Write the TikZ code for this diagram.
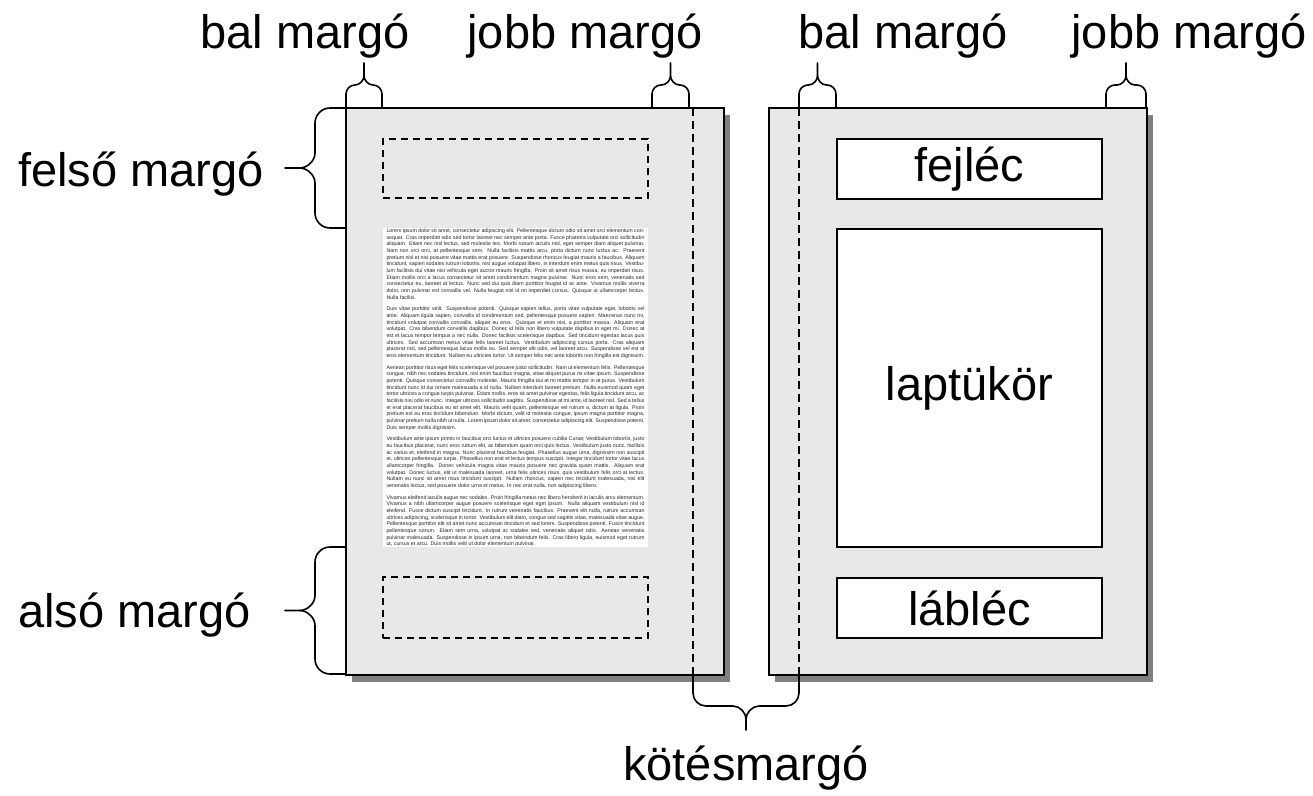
\documentclass[tikz,border=0pt]{standalone}
\usepackage{fontspec}
\setmainfont{Liberation Sans}
\usetikzlibrary{shadows}
\definecolor{pagegray}{HTML}{E8E8E8}
\definecolor{shadowgray}{HTML}{808080}
\newcommand\mybrace[6]{%
  \begin{scope}[shift={#1},rotate=#2]
    \draw[bracel] (0,0) -- (0,{-#4+#6}) .. controls (0,{-#4+0.45*#6}) and ({0.45*#6},-#4) .. (#6,-#4) -- ({#3/2-#6},-#4) .. controls ({#3/2-0.45*#6},-#4) and ({#3/2},{-#4-0.55*#6}) .. ({#3/2},{-#4-#6}) -- ({#3/2},-#5);
    \draw[bracel] (#3,0) -- (#3,{-#4+#6}) .. controls (#3,{-#4+0.45*#6}) and ({#3-0.45*#6},-#4) .. ({#3-#6},-#4) -- ({#3/2+#6},-#4) .. controls ({#3/2+0.45*#6},-#4) and ({#3/2},{-#4-0.55*#6}) .. ({#3/2},{-#4-#6});
  \end{scope}}
\begin{document}
\begin{tikzpicture}[x=1pt,y=-1pt,
  pagebox/.style={draw=black, line width=2pt, fill=pagegray, minimum width=378pt, minimum height=567pt, inner sep=0pt,
    drop shadow={shadow xshift=6pt, shadow yshift=-7pt, fill=shadowgray, opacity=1}},
  dashbox/.style={draw=black, line width=1.8pt, dash pattern=on 7pt off 5pt, minimum width=265pt, minimum height=60pt, inner sep=0pt},
  whitebox/.style={draw=black, line width=1.8pt, fill=white, minimum width=265pt, inner sep=0pt, font=\fontsize{47}{56}\selectfont},
  vdash/.style={draw=black, line width=1.8pt, dash pattern=on 8pt off 5pt},
  bracel/.style={draw=black, line width=1.6pt, line cap=round},
  lab/.style={font=\fontsize{47}{56}\selectfont, anchor=base, inner sep=0pt}
]
\useasboundingbox (0,0) rectangle (1313,795);

% pages
\node[pagebox] (pL) at (535,391.5) {};
\node[pagebox] (pR) at (957.5,391.5) {};

% left page content
\node[dashbox, minimum height=59pt] (headL) at (515.5,168.5) {};
\node[dashbox, minimum height=61pt] (footL) at (515.5,607.5) {};
\node[fill=white, minimum width=265pt, minimum height=319pt, inner sep=0pt] (tb) at (515.5,387.5) {};
\node[anchor=north, text width=258pt, align=justify, inner sep=0pt, text=black!85,
      font={\fontsize{5.3}{6.67}\selectfont\setlength{\parskip}{5pt}\emergencystretch=3em}]
  (tbtext) at ([yshift=-0.5pt]tb.north) {Lorem ipsum dolor sit amet, consectetur adipiscing elit. Pellentesque dictum odio sit amet orci elementum consequat. Cras imperdiet odio sed tortor laoreet nec semper ante porta. Fusce pharetra vulputate orci sollicitudin aliquam. Etiam nec nisl lectus, sed molestie leo. Morbi rutrum iaculis nisl, eget semper diam aliquet pulvinar. Nam non orci orci, at pellentesque sem. Nulla facilisis mattis arcu, porta dictum nunc luctus ac. Praesent pretium nisl et nisi posuere vitae mattis erat posuere. Suspendisse rhoncus feugiat mauris a faucibus. Aliquam tincidunt, sapien sodales rutrum lobortis, nisi augue volutpat libero, in interdum enim metus quis risus. Vestibulum facilisis dui vitae nisi vehicula eget auctor mauris fringilla. Proin sit amet risus massa, eu imperdiet risus. Etiam mollis orci a lacus consectetur sit amet condimentum magna pulvinar. Nunc eros sem, venenatis sed consectetur eu, laoreet at lectus. Nunc sed dui quis diam porttitor feugiat id ac ante. Vivamus mollis viverra dolor, non pulvinar est convallis vel. Nulla feugiat nisl id mi imperdiet cursus. Quisque ut ullamcorper lectus. Nulla facilisi.\par
Duis vitae porttitor velit. Suspendisse potenti. Quisque sapien tellus, porta vitae vulputate eget, lobortis vel ante. Aliquam ligula sapien, convallis id condimentum sed, pellentesque posuere sapien. Maecenas nunc mi, tincidunt volutpat convallis convallis, aliquet eu eros. Quisque et enim nisi, a porttitor massa. Aliquam erat volutpat. Cras bibendum convallis dapibus. Donec id felis non libero vulputate dapibus in eget mi. Donec at est et lacus tempor tempus a nec nulla. Donec facilisis scelerisque dapibus. Sed tincidunt egestas lacus quis ultrices. Sed accumsan metus vitae felis laoreet luctus. Vestibulum adipiscing cursus porta. Cras aliquam placerat nisl, sed pellentesque lacus mollis eu. Sed semper elit odio, vel laoreet arcu. Suspendisse vel est at eros elementum tincidunt. Nullam eu ultricies tortor. Ut semper felis nec ante lobortis non fringilla est dignissim.\par
Aenean porttitor risus eget felis scelerisque vel posuere justo sollicitudin. Nam ut elementum felis. Pellentesque congue, nibh nec sodales tincidunt, nisl enim faucibus magna, vitae aliquet purus mi vitae ipsum. Suspendisse potenti. Quisque consectetur convallis molestie. Mauris fringilla dui at mi mattis tempor in at purus. Vestibulum tincidunt nunc id dui ornare malesuada a id nulla. Nullam interdum laoreet pretium. Nulla euismod quam eget tortor ultrices a congue turpis pulvinar. Etiam mollis, eros sit amet pulvinar egestas, felis ligula tincidunt arcu, ac facilisis nisi odio et nunc. Integer ultrices sollicitudin sagittis. Suspendisse at mi ante, id laoreet nisl. Sed a tellus et erat placerat faucibus eu sit amet elit. Mauris velit quam, pellentesque vel rutrum a, dictum at ligula. Proin pretium est eu eros tincidunt bibendum. Morbi dictum, velit id molestie congue, ipsum magna porttitor magna, pulvinar pretium nulla nibh ut nulla. Lorem ipsum dolor sit amet, consectetur adipiscing elit. Suspendisse potenti. Duis semper mollis dignissim.\par
Vestibulum ante ipsum primis in faucibus orci luctus et ultrices posuere cubilia Curae; Vestibulum lobortis, justo eu faucibus placerat, nunc eros rutrum elit, ac bibendum quam orci quis lectus. Vestibulum justo nunc, facilisis ac varius et, eleifend in magna. Nunc placerat faucibus feugiat. Phasellus augue urna, dignissim non suscipit et, ultrices pellentesque turpis. Phasellus non erat et lectus tempus suscipit. Integer tincidunt tortor vitae lacus ullamcorper fringilla. Donec vehicula magna vitae mauris posuere nec gravida quam mattis. Aliquam erat volutpat. Donec luctus, elit ut malesuada laoreet, urna felis ultrices risus, quis vestibulum felis orci at lectus. Nullam eu nunc sit amet risus tincidunt suscipit. Nullam rhoncus, sapien nec tincidunt malesuada, nisi elit venenatis lectus, sed posuere dolor urna et metus. In nec erat nulla, non adipiscing libero.\par
Vivamus eleifend iaculis augue nec sodales. Proin fringilla metus nec libero hendrerit in iaculis arcu elementum. Vivamus a nibh ullamcorper augue posuere scelerisque eget eget ipsum. Nulla aliquam vestibulum nisl id eleifend. Fusce dictum suscipit tincidunt. In rutrum venenatis faucibus. Praesent elit nulla, rutrum accumsan ultrices adipiscing, scelerisque in tortor. Vestibulum elit diam, congue sed sagittis vitae, malesuada vitae augue. Pellentesque porttitor elit sit amet nunc accumsan tincidunt et sed lorem. Suspendisse potenti. Fusce tincidunt pellentesque rutrum. Etiam sem urna, volutpat ac sodales sed, venenatis aliquet odio. Aenean venenatis pulvinar malesuada. Suspendisse in ipsum urna, non bibendum felis. Cras libero ligula, euismod eget rutrum ut, cursus et arcu. Duis mollis velit ut dolor elementum pulvinar.};

% right page content
\node[whitebox, minimum height=60pt] (fej) at (969.5,169) {fejléc};
\node[whitebox, minimum height=318pt] (lap) at (969.5,388) {laptükör};
\node[whitebox, minimum height=60pt] (lab) at (969.5,608) {lábléc};

% binding lines
\coordinate (gLt) at (693,108);
\coordinate (gLb) at (693,675);
\coordinate (gRt) at (799,108);
\coordinate (gRb) at (799,675);
\draw[vdash] (gLt) -- (gLb);
\draw[vdash] (gRt) -- (gRb);

% braces
\mybrace{(346,108)}{0}{36}{23}{45}{9}
\mybrace{(652,108)}{0}{37}{23}{45}{9}
\mybrace{(799,108)}{0}{37}{23}{45}{9}
\mybrace{(1106,108)}{0}{40}{23}{45}{9}
\mybrace{(345,228)}{90}{120}{30}{60}{15}
\mybrace{(345,674)}{90}{127}{30}{60}{15}
\mybrace{(799,676)}{180}{106}{30}{54}{13}

% labels
\node[lab] (l1) at (305,48) {bal margó};
\node[lab] (l2) at (585,48) {jobb margó};
\node[lab] (l3) at (903,48) {bal margó};
\node[lab] (l4) at (1189,48) {jobb margó};
\node[lab, anchor=base west] (l5) at (18,186) {felső margó};
\node[lab, anchor=base west] (l6) at (18,627) {alsó margó};
\node[lab] (l7) at (746,780) {kötésmargó};
\end{tikzpicture}
\end{document}
